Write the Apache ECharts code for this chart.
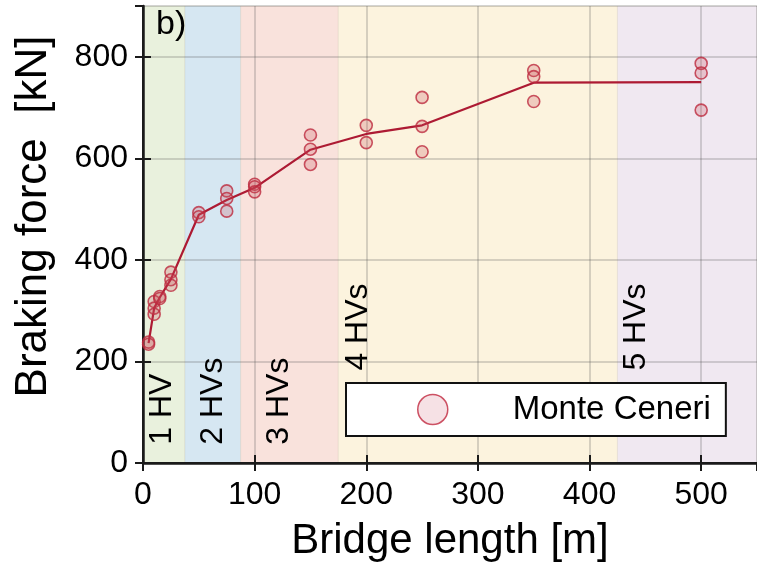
<!DOCTYPE html>
<html><head><meta charset="utf-8">
<script src="https://cdn.jsdelivr.net/npm/echarts@6/dist/echarts.min.js"></script>
<style>html,body{margin:0;padding:0;background:#fff}#c{width:757px;height:572px}</style>
</head><body><div id="c"></div>
<script>
// measured points
const lengths = [5,5, 10,10,10, 15,15, 25,25,25, 50,50, 75,75,75, 100,100,100, 150,150,150, 200,200, 250,250,250, 350,350,350, 500,500,500];
const forces  = [238,234, 318,305,293, 328,324, 376,361,350, 493,485, 536,521,496, 549,544,534, 646,618,588, 665,631, 720,663,613, 773,761,712, 787,768,695];
// mean line
const meanLengths = [5, 10, 15, 25, 50, 75, 100, 150, 200, 250, 350, 500];
const meanForces  = [236, 305, 326, 362, 489, 518, 542, 617, 648, 665, 749, 750];
// HV bands
const bandStart = [0, 37.5, 87.5, 175, 425];
const bandEnd   = [37.5, 87.5, 175, 425, 550];
const bandColors = ['#e9f1dd', '#d6e7f2', '#f9e2dc', '#fcf3de', '#f0e8f1'];
const bandLabels = ['1 HV', '2 HVs', '3 HVs', '4 HVs', '5 HVs'];
const bandLabelX = [17.2, 62.7, 122.4, 192.5, 441.7];
const bandLabelY = [36, 36, 36, 182, 182];
// axes
const xMin = 0, xMax = 550, xStep = 100;
const yMin = 0, yMax = 900, yStep = 200;

const FONT = "'Liberation Sans', Arial, Helvetica, sans-serif";
const chart = echarts.init(document.getElementById('c'), null, {renderer: 'canvas'});

const axisCommon = {
  z: 1,
  axisLine: {show: true, lineStyle: {color: '#1a1a1a', width: 2.5}},
  axisTick: {show: true, inside: true, length: 8, lineStyle: {color: '#1a1a1a', width: 2}},
};

chart.setOption({
  animation: false,
  backgroundColor: '#ffffff',
  title: {
    text: 'b)', left: 156, top: 8, padding: 0,
    textStyle: {fontFamily: FONT, fontSize: 34, fontWeight: 'normal', color: '#000'}
  },
  grid: {left: 143, right: 0, top: 6, bottom: 109, containLabel: false, outerBoundsMode: 'none'},
  legend: {
    data: ['Monte Ceneri'],
    left: 346, top: 383,
    padding: [10, 15, 10, 71],
    itemWidth: 30, itemHeight: 30,
    icon: 'circle',
    backgroundColor: '#ffffff',
    borderColor: '#111', borderWidth: 2, borderRadius: 0,
    itemStyle: {color: 'rgba(200,70,95,0.2)', borderColor: '#c0283f', borderWidth: 1.5},
    textStyle: {fontFamily: FONT, fontSize: 33, color: '#000', padding: [0, 0, 0, 60]},
    z: 10
  },
  xAxis: [
    Object.assign({}, axisCommon, {
      type: 'value', min: xMin, max: xMax, interval: xStep, position: 'bottom',
      name: 'Bridge length [m]', nameLocation: 'middle', nameGap: 57,
      nameTextStyle: {fontFamily: FONT, fontSize: 42, color: '#000'},
      axisLabel: {fontFamily: FONT, fontSize: 32, color: '#000', margin: 16, showMaxLabel: false},
      splitLine: {show: true, lineStyle: {color: 'rgba(80,80,80,0.3)', width: 1.5}}
    }),
    Object.assign({}, axisCommon, {
      type: 'value', min: xMin, max: xMax, interval: xStep, position: 'top',
      axisLine: {show: true, lineStyle: {color: '#1a1a1a', width: 2}},
      axisLabel: {show: false}, splitLine: {show: false}
    })
  ],
  yAxis: [
    Object.assign({}, axisCommon, {
      type: 'value', min: yMin, max: yMax, interval: yStep, position: 'left',
      name: 'Braking force  [kN]', nameLocation: 'middle', nameGap: 87,
      nameTextStyle: {fontFamily: FONT, fontSize: 44, color: '#000', padding: [0, 0, 0, 36]},
      axisLabel: {fontFamily: FONT, fontSize: 32, color: '#000', margin: 15, showMaxLabel: false},
      splitLine: {show: true, lineStyle: {color: 'rgba(80,80,80,0.3)', width: 1.5}}
    }),
    Object.assign({}, axisCommon, {
      type: 'value', min: yMin, max: yMax, interval: yStep, position: 'right',
      axisLine: {show: true, lineStyle: {color: '#1a1a1a', width: 2}},
      axisLabel: {show: false}, splitLine: {show: false}
    })
  ],
  series: [
    {
      type: 'custom', name: 'bands', z: 0, silent: true,
      data: bandStart.map((s, i) => [s, bandEnd[i], yMax]),
      encode: {x: [0, 1], y: 2},
      renderItem: function (params, api) {
        const p0 = api.coord([api.value(0), yMax]);
        const p1 = api.coord([api.value(1), yMin]);
        return {
          type: 'rect',
          shape: {x: p0[0], y: p0[1], width: p1[0] - p0[0], height: p1[1] - p0[1]},
          style: {fill: bandColors[params.dataIndex], stroke: 'rgba(160,150,110,0.12)', lineWidth: 1}
        };
      }
    },
    {
      type: 'line', name: 'mean', z: 3, silent: true,
      data: meanLengths.map((x, i) => [x, meanForces[i]]),
      symbol: 'none',
      lineStyle: {color: '#ad1a33', width: 2.2}
    },
    {
      type: 'scatter', name: 'Monte Ceneri', z: 4,
      data: lengths.map((x, i) => [x, forces[i]]),
      symbol: 'circle', symbolSize: 12,
      itemStyle: {color: 'rgba(200,80,90,0.3)', borderColor: '#bd2a3e', borderWidth: 1.6}
    },
    {
      type: 'scatter', name: 'labels', z: 5, silent: true,
      data: bandLabels.map((t, i) => [bandLabelX[i], bandLabelY[i], t]),
      symbolSize: 0,
      itemStyle: {color: '#000', opacity: 1},
      label: {
        show: true, position: 'inside', rotate: 90, align: 'left', verticalAlign: 'middle',
        formatter: p => p.value[2],
        fontFamily: FONT, fontSize: 32, color: '#000', textBorderWidth: 0, opacity: 1
      }
    }
  ]
});
</script></body></html>
